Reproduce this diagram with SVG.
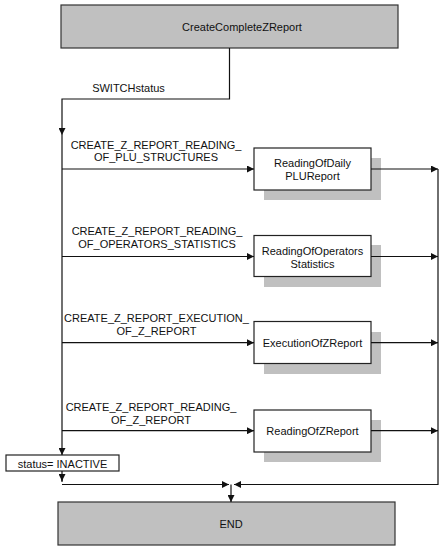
<svg xmlns="http://www.w3.org/2000/svg" width="446" height="550" viewBox="0 0 446 550">
<style>
text{font-family:"Liberation Sans",Arial,sans-serif;font-size:11px;fill:#111;text-anchor:middle;dominant-baseline:central}
.term{fill:#c0c0c0;stroke:#333;stroke-width:1.2}
.box{fill:#fff;stroke:#222;stroke-width:1.2}
.sh{fill:#c0c0c0}
.ln{fill:none;stroke:#111;stroke-width:1.2}
</style>
<defs>
<marker id="ah" viewBox="0 0 10 10" refX="10" refY="5" markerWidth="7" markerHeight="7" markerUnits="userSpaceOnUse" orient="auto">
<path d="M0,0 L10,5 L0,10 z" fill="#111"/>
</marker>
</defs>
<rect width="446" height="550" fill="#fff"/>
<g id="start"><rect class="term" x="61" y="5" width="337" height="43"/><text x="242" y="27">CreateCompleteZReport</text></g>
<g id="n1"><rect class="sh" x="264" y="158" width="117" height="42"/><rect class="box" x="254" y="148" width="117" height="42"/><text x="312.5" y="163">ReadingOfDaily</text><text x="312.5" y="176">PLUReport</text></g>
<g id="n2"><rect class="sh" x="264" y="245" width="117" height="42"/><rect class="box" x="254" y="235.5" width="117" height="41"/><text x="312.5" y="250.5">ReadingOfOperators</text><text x="312.5" y="263.5">Statistics</text></g>
<g id="n3"><rect class="sh" x="264" y="332" width="117" height="42"/><rect class="box" x="254" y="321.5" width="117" height="42"/><text x="312.5" y="342.7">ExecutionOfZReport</text></g>
<g id="n4"><rect class="sh" x="264" y="420" width="117" height="42"/><rect class="box" x="254" y="410" width="117" height="42"/><text x="312.5" y="431">ReadingOfZReport</text></g>
<g id="status"><rect class="box" x="6" y="455" width="113" height="16"/><text x="62.5" y="463.5">status= INACTIVE</text></g>
<g id="end"><rect class="term" x="58" y="502" width="337" height="43"/><text x="231" y="524">END</text></g>
<g id="connectors">
<path class="ln" d="M229.5,48 V99 H62 V135" marker-end="url(#ah)"/>
<path class="ln" d="M62,135 V455" marker-end="url(#ah)"/>
<path class="ln" d="M62,169 H254" marker-end="url(#ah)"/>
<path class="ln" d="M62,256.5 H254" marker-end="url(#ah)"/>
<path class="ln" d="M62,342.7 H254" marker-end="url(#ah)"/>
<path class="ln" d="M62,430.7 H254" marker-end="url(#ah)"/>
<path class="ln" d="M371,169 H438" marker-end="url(#ah)"/>
<path class="ln" d="M371,256.5 H438" marker-end="url(#ah)"/>
<path class="ln" d="M371,342.7 H438" marker-end="url(#ah)"/>
<path class="ln" d="M371,430.7 H438" marker-end="url(#ah)"/>
<path class="ln" d="M62,471 V482"/>
<path class="ln" d="M62,476 V481" marker-end="url(#ah)"/>
<path class="ln" d="M62,484.5 H229" marker-end="url(#ah)"/>
<path class="ln" d="M438,169 V484.5 H234" marker-end="url(#ah)"/>
<path class="ln" d="M231,484.5 V502" marker-end="url(#ah)"/>
<text x="128.5" y="88">SWITCHstatus</text>
<text x="156" y="145">CREATE_Z_REPORT_READING_</text>
<text x="156" y="157">OF_PLU_STRUCTURES</text>
<text x="157" y="231">CREATE_Z_REPORT_READING_</text>
<text x="157" y="244">OF_OPERATORS_STATISTICS</text>
<text x="156.5" y="318">CREATE_Z_REPORT_EXECUTION_</text>
<text x="156.5" y="331">OF_Z_REPORT</text>
<text x="151" y="407">CREATE_Z_REPORT_READING_</text>
<text x="151" y="419.5">OF_Z_REPORT</text>
</g>
</svg>
